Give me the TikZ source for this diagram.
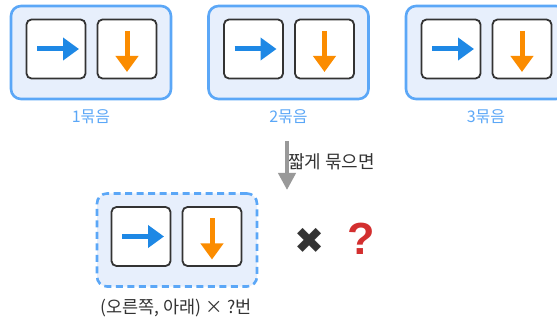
\documentclass[tikz,border=0pt]{standalone}
\usepackage{fontspec}
\setmainfont{Noto Sans CJK KR}
\newfontfamily\markfont{DejaVu Sans}
\newfontfamily\askfont{Liberation Sans}
\usetikzlibrary{arrows.meta,positioning}
\definecolor{groupfill}{HTML}{E7EFFC}
\definecolor{groupline}{HTML}{5BA7F7}
\definecolor{rightblue}{HTML}{1E88E5}
\definecolor{downorange}{HTML}{FB8C00}
\definecolor{boxline}{HTML}{333333}
\definecolor{flowgray}{HTML}{999999}
\definecolor{askred}{HTML}{D32F2F}
\begin{document}
\begin{tikzpicture}[
  x=1pt, y=-1pt,
  group/.style={
    draw=groupline,
    fill=groupfill,
    line width=2.6pt,
    rounded corners=10pt,
    minimum width=160pt,
    minimum height=93pt
  },
  dashgroup/.style={group, dashed, dash pattern=on 7pt off 4.5pt},
  cell/.style={
    draw=boxline,
    fill=white,
    line width=1.8pt,
    rounded corners=5pt,
    minimum width=59pt,
    minimum height=59pt
  },
  grouplabel/.style={text=groupline, font=\fontsize{16pt}{18pt}\selectfont},
  rightarrow/.style={draw=rightblue, line width=5pt, -{Triangle[length=16pt,width=22pt]}},
  downarrow/.style={draw=downorange, line width=5pt, -{Triangle[length=16pt,width=22pt]}},
  arrow/.style={draw=flowgray, line width=4pt, -{Triangle[length=17pt,width=17pt]}}
]
\useasboundingbox (0,0) rectangle (557,323);
\clip (0,0) rectangle (557,323);

% three groups on top
\node[group] (g1) at (91,52.5) {};
\node[cell] (g1r) at (56,49) {};
\node[cell] (g1d) at (127,49) {};
\node[grouplabel] (l1) at (91,117) {1묶음};

\node[group] (g2) at (288.5,52.5) {};
\node[cell] (g2r) at (253.5,49) {};
\node[cell] (g2d) at (324.5,49) {};
\node[grouplabel] (l2) at (288.5,117) {2묶음};

\node[group] (g3) at (486,52.5) {};
\node[cell] (g3r) at (451,49) {};
\node[cell] (g3d) at (522,49) {};
\node[grouplabel] (l3) at (486,117) {3묶음};

% short form
\node[dashgroup] (g0) at (177,240) {};
\node[cell] (g0r) at (141,236.5) {};
\node[cell] (g0d) at (212,236.5) {};
\node[font=\fontsize{17.5pt}{20pt}\selectfont, text=boxline] (l0) at (176,308) {(오른쪽, 아래) × ?번};
\node[font=\fontsize{36pt}{38pt}\markfont\bfseries, text=boxline] (times) at (310,241) {✖};
\node[font=\fontsize{45pt}{46pt}\askfont\bfseries, text=askred] (ask) at (361,239) {?};

\coordinate (flowtop) at (287,141);
\coordinate (flowend) at (287,190);
\node[font=\fontsize{18pt}{20pt}\selectfont, text=boxline, anchor=west, inner sep=0pt] (flowtext) at (288,162) {짧게 묶으면};

% arrows in the cells
\draw[rightarrow] ([xshift=-19pt]g1r.center) -- ([xshift=23pt]g1r.center);
\draw[downarrow] ([yshift=18pt]g1d.center) -- ([yshift=-23pt]g1d.center);
\draw[rightarrow] ([xshift=-19pt]g2r.center) -- ([xshift=23pt]g2r.center);
\draw[downarrow] ([yshift=18pt]g2d.center) -- ([yshift=-23pt]g2d.center);
\draw[rightarrow] ([xshift=-19pt]g3r.center) -- ([xshift=23pt]g3r.center);
\draw[downarrow] ([yshift=18pt]g3d.center) -- ([yshift=-23pt]g3d.center);
\draw[rightarrow] ([xshift=-19pt]g0r.center) -- ([xshift=23pt]g0r.center);
\draw[downarrow] ([yshift=18pt]g0d.center) -- ([yshift=-23pt]g0d.center);

\draw[arrow] (flowtop) -- (flowend);
\end{tikzpicture}
\end{document}
